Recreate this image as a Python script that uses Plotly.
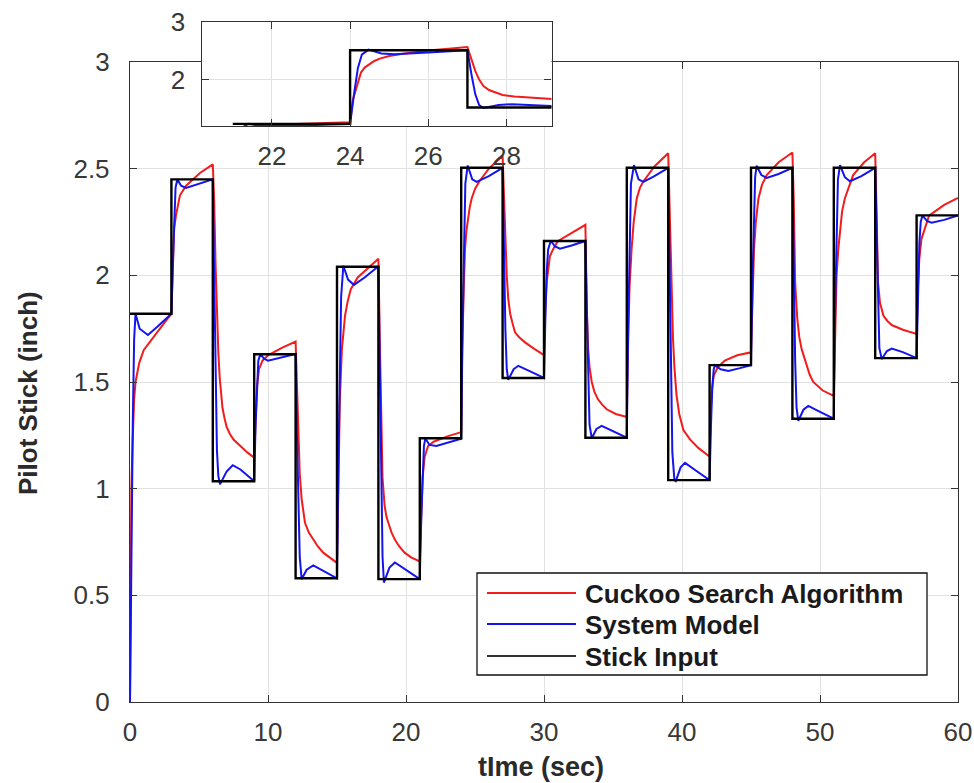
import plotly.graph_objects as go

# ---- stick input: piecewise-constant level held over each 3 s interval ----
stick_t = [0, 3, 6, 9, 12, 15, 18, 21, 24, 27, 30, 33, 36, 39, 42, 45, 48, 51, 54, 57, 60]
stick_y = [1.82, 2.45, 1.035, 1.63, 0.58, 2.04, 0.576, 1.236, 2.504, 1.519, 2.161,
           1.239, 2.504, 1.04, 1.579, 2.504, 1.328, 2.504, 1.612, 2.281, 2.281]

# ---- system model response ----
model_t = [0, 0.1, 0.2, 0.3, 0.4, 0.7, 1.3, 2.0, 3.0,
           3.1, 3.2, 3.3, 3.43, 3.7, 4.06, 5.0, 6.0,
           6.1, 6.2, 6.3, 6.4, 6.52, 7.0, 7.44, 8.0, 9.0,
           9.1, 9.2, 9.3, 9.45, 9.7, 10.0, 11.0, 12.0,
           12.1, 12.2, 12.3, 12.44, 12.8, 13.28, 14.0, 15.0,
           15.1, 15.2, 15.3, 15.46, 15.8, 16.23, 17.0, 18.0,
           18.1, 18.2, 18.3, 18.4, 18.8, 19.2, 20.0, 21.0,
           21.1, 21.2, 21.3, 21.4, 21.7, 22.2, 23.0, 24.0,
           24.1, 24.2, 24.3, 24.47, 24.8, 25.12, 26.0, 27.0,
           27.1, 27.2, 27.3, 27.41, 27.8, 28.14, 29.0, 30.0,
           30.1, 30.2, 30.3, 30.49, 30.8, 31.16, 32.0, 33.0,
           33.1, 33.2, 33.3, 33.46, 33.8, 34.18, 35.0, 36.0,
           36.1, 36.2, 36.3, 36.52, 36.85, 37.2, 38.0, 39.0,
           39.1, 39.2, 39.3, 39.45, 39.55, 39.9, 40.22, 41.0, 42.0,
           42.1, 42.2, 42.3, 42.39, 42.8, 43.36, 44.2, 45.0,
           45.1, 45.2, 45.3, 45.41, 45.75, 46.14, 47.0, 48.0,
           48.1, 48.2, 48.3, 48.43, 48.8, 49.15, 50.0, 51.0,
           51.1, 51.2, 51.3, 51.45, 51.8, 52.17, 53.0, 54.0,
           54.1, 54.2, 54.3, 54.47, 54.85, 55.2, 56.0, 57.0,
           57.1, 57.2, 57.3, 57.42, 57.75, 58.09, 59.0, 60.0]
model_y = [0, 0.7, 1.3, 1.7, 1.82, 1.75, 1.72, 1.76, 1.82,
           2.05, 2.28, 2.41, 2.45, 2.42, 2.41, 2.43, 2.45,
           2.0, 1.5, 1.18, 1.06, 1.02, 1.08, 1.11, 1.09, 1.035,
           1.3, 1.5, 1.6, 1.632, 1.61, 1.60, 1.615, 1.631,
           1.25, 0.9, 0.68, 0.575, 0.62, 0.64, 0.615, 0.58,
           1.1, 1.6, 1.9, 2.045, 1.98, 1.955, 1.99, 2.043,
           1.5, 1.0, 0.68, 0.56, 0.63, 0.654, 0.62, 0.576,
           0.85, 1.08, 1.2, 1.236, 1.205, 1.2, 1.215, 1.234,
           1.75, 2.2, 2.43, 2.515, 2.45, 2.438, 2.465, 2.504,
           2.1, 1.75, 1.56, 1.51, 1.56, 1.576, 1.55, 1.519,
           1.8, 2.02, 2.12, 2.162, 2.135, 2.125, 2.14, 2.161,
           1.85, 1.5, 1.3, 1.236, 1.28, 1.294, 1.27, 1.239,
           1.75, 2.2, 2.43, 2.517, 2.45, 2.438, 2.465, 2.504,
           2.0, 1.5, 1.17, 1.04, 1.035, 1.1, 1.121, 1.085, 1.04,
           1.3, 1.48, 1.56, 1.579, 1.56, 1.552, 1.565, 1.579,
           1.95, 2.3, 2.46, 2.514, 2.47, 2.457, 2.475, 2.504,
           2.0, 1.6, 1.38, 1.318, 1.37, 1.388, 1.36, 1.328,
           1.85, 2.25, 2.45, 2.517, 2.46, 2.441, 2.465, 2.504,
           2.2, 1.85, 1.66, 1.607, 1.645, 1.657, 1.64, 1.612,
           1.95, 2.15, 2.25, 2.281, 2.255, 2.247, 2.26, 2.281]

# ---- cuckoo search algorithm response ----
cuckoo_t = [0, 0.05, 0.1, 0.17, 0.3, 0.4, 0.67, 1.0, 1.45, 2.17, 3.0,
            3.05, 3.1, 3.2, 3.33, 3.62, 4.06, 5.07, 6.0,
            6.1, 6.2, 6.3, 6.4, 6.5, 6.6, 6.7, 6.85, 7.0, 7.25, 7.5, 8.0, 8.5, 9.0,
            9.1, 9.2, 9.35, 9.6, 10.0, 11.0, 12.0,
            12.1, 12.2, 12.3, 12.44, 12.55, 12.68, 12.95, 13.28, 13.6, 14.0, 14.5, 15.0,
            15.1, 15.2, 15.35, 15.45, 15.58, 15.78, 16.0, 16.5, 17.0, 18.0,
            18.1, 18.2, 18.3, 18.45, 18.58, 18.72, 18.95, 19.2, 19.5, 19.9, 20.4, 21.0,
            21.1, 21.2, 21.35, 21.6, 22.0, 23.0, 24.0,
            24.07, 24.2, 24.28, 24.38, 24.5, 24.62, 24.76, 25.0, 25.31, 26.0, 27.0,
            27.1, 27.2, 27.3, 27.41, 27.55, 27.7, 27.9, 28.2, 28.6, 29.3, 30.0,
            30.1, 30.2, 30.43, 30.68, 31.0, 32.0, 33.0,
            33.1, 33.2, 33.3, 33.46, 33.65, 33.9, 34.2, 34.54, 35.2, 36.0,
            36.1, 36.2, 36.35, 36.5, 36.72, 36.95, 37.2, 38.0, 39.0,
            39.1, 39.2, 39.35, 39.45, 39.6, 39.8, 40.1, 40.58, 41.2, 41.8, 42.0,
            42.1, 42.15, 42.3, 42.6, 43.1, 44.0, 45.0,
            45.1, 45.22, 45.35, 45.54, 45.8, 46.14, 47.0, 48.0,
            48.1, 48.2, 48.35, 48.5, 48.67, 49.0, 49.25, 49.51, 50.2, 51.0,
            51.1, 51.2, 51.33, 51.6, 51.8, 52.4, 53.2, 54.0,
            54.1, 54.2, 54.35, 54.6, 54.9, 55.2, 56.0, 57.0,
            57.1, 57.2, 57.35, 57.5, 57.9, 59.0, 60.0]
cuckoo_y = [0, 0.6, 1.0, 1.18, 1.42, 1.5, 1.59, 1.65, 1.69, 1.75, 1.82,
            1.95, 2.1, 2.22, 2.28, 2.375, 2.42, 2.48, 2.52,
            2.35, 2.05, 1.8, 1.64, 1.52, 1.44, 1.38, 1.33, 1.29, 1.255, 1.23, 1.2, 1.17, 1.145,
            1.35, 1.48, 1.56, 1.6, 1.625, 1.66, 1.69,
            1.5, 1.25, 1.07, 0.95, 0.89, 0.84, 0.795, 0.76, 0.73, 0.70, 0.675, 0.652,
            1.0, 1.4, 1.65, 1.74, 1.81, 1.88, 1.935, 1.99, 2.02, 2.078,
            1.7, 1.3, 1.05, 0.92, 0.87, 0.84, 0.795, 0.76, 0.73, 0.70, 0.677, 0.659,
            0.9, 1.05, 1.15, 1.2, 1.22, 1.245, 1.265,
            1.65, 1.97, 2.125, 2.21, 2.27, 2.32, 2.36, 2.405, 2.44, 2.5, 2.561,
            2.35, 2.15, 2.0, 1.89, 1.82, 1.78, 1.733, 1.71, 1.687, 1.655, 1.626,
            1.85, 1.97, 2.09, 2.125, 2.16, 2.2, 2.237,
            1.85, 1.654, 1.57, 1.5, 1.455, 1.42, 1.395, 1.372, 1.35, 1.336,
            1.7, 1.95, 2.125, 2.25, 2.36, 2.41, 2.44, 2.51, 2.572,
            2.3, 1.97, 1.7, 1.57, 1.44, 1.35, 1.275, 1.231, 1.19, 1.16, 1.15,
            1.38, 1.45, 1.53, 1.57, 1.6, 1.625, 1.639,
            1.9, 2.125, 2.25, 2.36, 2.425, 2.47, 2.53, 2.576,
            2.35, 1.968, 1.8, 1.71, 1.654, 1.58, 1.535, 1.5, 1.46, 1.435,
            1.8, 2.0, 2.125, 2.3, 2.36, 2.47, 2.53, 2.572,
            2.3, 1.97, 1.87, 1.81, 1.785, 1.767, 1.745, 1.725,
            1.95, 2.08, 2.17, 2.203, 2.28, 2.33, 2.363]

x_ticks = [0, 10, 20, 30, 40, 50, 60]
y_ticks = [0, 0.5, 1, 1.5, 2, 2.5, 3]
y_tick_text = ["0", "0.5", "1", "1.5", "2", "2.5", "3"]
inset_x_ticks = [22, 24, 26, 28]
inset_y_ticks = [2, 3]
inset_start = 21

series_names = ["Cuckoo Search Algorithm", "System Model", "Stick Input"]
RED, BLUE, BLACK = "#f21c1c", "#1414f0", "#000000"

W, H = 974, 783
FONT = "Liberation Sans, Arial, sans-serif"
AXIS_CLR = "#333333"
GRID_CLR = "#e2e2e2"


def px_x(p):
    return p / W


def px_y(p):
    return 1 - p / H


def window(ts, ys, t0):
    keep = [i for i, t in enumerate(ts) if t >= t0]
    return [ts[i] for i in keep], [ys[i] for i in keep]


fig = go.Figure()

# each panel: red, then blue, then the stick input on top
for xa, ya, t0 in (("x", "y", 0), ("x2", "y2", inset_start)):
    ct, cy = window(cuckoo_t, cuckoo_y, t0)
    mt, my = window(model_t, model_y, t0)
    st, sy = window(stick_t, stick_y, t0)
    fig.add_trace(go.Scatter(x=ct, y=cy, mode="lines", name=series_names[0],
                             line=dict(color=RED, width=2), xaxis=xa, yaxis=ya,
                             showlegend=False, hoverinfo="skip"))
    fig.add_trace(go.Scatter(x=mt, y=my, mode="lines", name=series_names[1],
                             line=dict(color=BLUE, width=2), xaxis=xa, yaxis=ya,
                             showlegend=False, hoverinfo="skip"))
    fig.add_trace(go.Scatter(x=st, y=sy, mode="lines", name=series_names[2],
                             line=dict(color=BLACK, width=2.4, shape="hv"),
                             xaxis=xa, yaxis=ya, showlegend=False, hoverinfo="skip"))

axis_common = dict(
    showgrid=True, gridcolor=GRID_CLR, gridwidth=1,
    showline=True, linecolor=AXIS_CLR, linewidth=1.4, mirror="ticks",
    ticks="inside", ticklen=7, tickwidth=1.2, tickcolor=AXIS_CLR,
    zeroline=False, tickfont=dict(family=FONT, size=26, color="#383838"),
    fixedrange=True, automargin=False,
)

fig.update_layout(
    width=W, height=H,
    margin=dict(l=0, r=0, t=0, b=0, pad=0, autoexpand=False),
    paper_bgcolor="white", plot_bgcolor="white",
    showlegend=False,
    xaxis=dict(domain=[px_x(130), px_x(958)], range=[0, 60], tickvals=x_ticks,
               ticklabelstandoff=7, anchor="y", **axis_common),
    yaxis=dict(domain=[px_y(702), px_y(62)], range=[0, 3], tickvals=y_ticks,
               ticktext=y_tick_text, ticklabelstandoff=14, anchor="x", **axis_common),
    xaxis2=dict(domain=[px_x(201.5), px_x(551.5)], range=[20.2, 29.15],
                tickvals=inset_x_ticks, ticklabelstandoff=7, anchor="y2", **axis_common),
    yaxis2=dict(domain=[px_y(126), px_y(21.5)], range=[1.2, 3.0],
                tickvals=inset_y_ticks, ticklabelstandoff=10, anchor="x2", **axis_common),
)

# axis titles
fig.add_annotation(text="<b>tIme (sec)</b>", xref="paper", yref="paper",
                   x=px_x(541), y=px_y(767), xanchor="center", yanchor="middle",
                   showarrow=False, font=dict(family=FONT, size=27, color="#2a2a2a"))
fig.add_annotation(text="<b>Pilot Stick (inch)</b>", xref="paper", yref="paper",
                   x=px_x(28), y=px_y(393), xanchor="center", yanchor="middle",
                   textangle=-90, showarrow=False,
                   font=dict(family=FONT, size=26, color="#2a2a2a"))

# legend box with line samples
fig.add_shape(type="rect", xref="paper", yref="paper",
              x0=px_x(477), x1=px_x(927), y0=px_y(675), y1=px_y(573),
              line=dict(color="#111111", width=1.3), fillcolor="white", layer="above")
for name, clr, row in zip(series_names, (RED, BLUE, "#333333"), (593, 624, 656)):
    fig.add_shape(type="line", xref="paper", yref="paper",
                  x0=px_x(487), x1=px_x(576), y0=px_y(row), y1=px_y(row),
                  line=dict(color=clr, width=2), layer="above")
    fig.add_annotation(text="<b>" + name + "</b>", xref="paper", yref="paper",
                       x=px_x(583), y=px_y(row + 1), xanchor="left", yanchor="middle",
                       showarrow=False, font=dict(family=FONT, size=26, color="#1a1a1a"))

# page body without the default browser margin so the figure fills the window
fig.write_html(
    "out.html",
    post_script="document.body.style.margin='0';document.body.style.overflow='hidden';",
)
